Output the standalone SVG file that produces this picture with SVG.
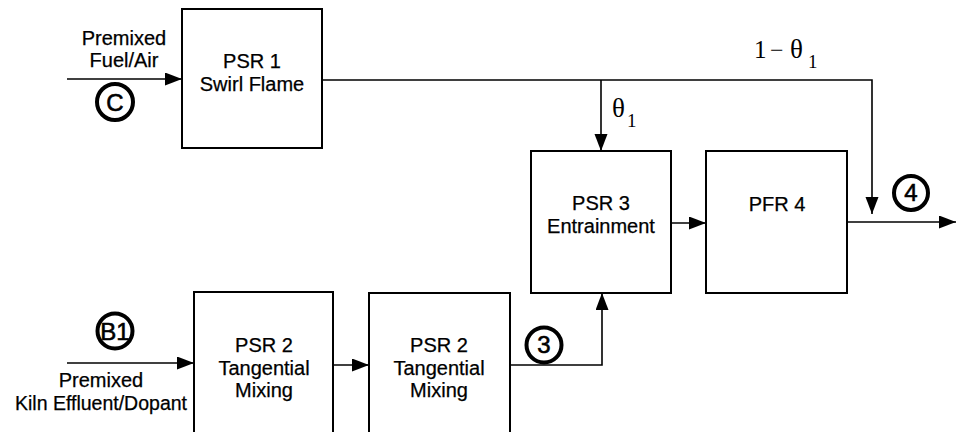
<svg xmlns="http://www.w3.org/2000/svg" width="956" height="432" viewBox="0 0 956 432">
<defs>
<marker id="ah" markerUnits="userSpaceOnUse" markerWidth="20" markerHeight="14" refX="17" refY="6.5" orient="auto">
<path d="M0,0 L17,6.5 L0,13 Z" fill="#000"/>
</marker>
<style>
.box{fill:#fff;stroke:#000;stroke-width:2}
.ln{fill:none;stroke:#000;stroke-width:1.6}
.t{font-family:"Liberation Sans",Arial,sans-serif;font-size:20px;fill:#000;stroke:#000;stroke-width:0.25;text-anchor:middle}
.g{font-family:"Liberation Serif","Times New Roman",serif;fill:#000}
.c{fill:none;stroke:#000;stroke-width:4}
.ct{font-family:"Liberation Sans",Arial,sans-serif;font-size:24px;fill:#000;stroke:#000;stroke-width:0.6;text-anchor:middle}
</style>
</defs>
<rect width="956" height="432" fill="#fff"/>
<g id="connectors">
<path class="ln" d="M67,79 H182" marker-end="url(#ah)"/>
<path class="ln" d="M322,80 H872 V214" marker-end="url(#ah)"/>
<path class="ln" d="M601,80 V151" marker-end="url(#ah)"/>
<path class="ln" d="M671,223 H706" marker-end="url(#ah)"/>
<path class="ln" d="M847,222 H956" marker-end="url(#ah)"/>
<path class="ln" d="M67,363 H194" marker-end="url(#ah)"/>
<path class="ln" d="M333,365 H369" marker-end="url(#ah)"/>
<path class="ln" d="M510,365 H602 V293" marker-end="url(#ah)"/>
</g>
<g id="label-c">
<text class="t" x="124" y="45">Premixed</text>
<text class="t" x="124" y="67">Fuel/Air</text>
<circle class="c" cx="115" cy="102" r="18"/>
<text class="ct" x="115" y="111">C</text>
</g>
<g id="label-b1">
<circle class="c" cx="115" cy="331" r="17.5"/>
<text class="ct" x="115" y="340">B1</text>
<text class="t" x="101" y="387">Premixed</text>
<text class="t" x="101" y="410" style="font-size:19.5px">Kiln Effluent/Dopant</text>
</g>
<g id="psr1">
<rect class="box" x="182" y="9" width="140" height="139"/>
<text class="t" x="252" y="68">PSR 1</text>
<text class="t" x="252" y="91">Swirl Flame</text>
</g>
<g id="theta-labels">
<text class="g" x="612" y="117" font-size="27">θ</text>
<text class="g" x="627" y="127" font-size="19">1</text>
<text class="g" x="754" y="58" font-size="25">1</text>
<text class="g" x="770" y="58" font-size="24">−</text>
<text class="g" x="790" y="58" font-size="27">θ</text>
<text class="g" x="808" y="68" font-size="19">1</text>
</g>
<g id="psr3">
<rect class="box" x="531" y="151" width="140" height="142"/>
<text class="t" x="601" y="210">PSR 3</text>
<text class="t" x="601" y="233">Entrainment</text>
</g>
<g id="pfr4">
<rect class="box" x="706" y="151" width="141" height="142"/>
<text class="t" x="777" y="211">PFR 4</text>
</g>
<g id="label-4">
<circle class="c" cx="911" cy="193" r="17"/>
<text class="ct" x="911" y="201">4</text>
</g>
<g id="psr2a">
<rect class="box" x="194" y="292" width="139" height="150"/>
<text class="t" x="264" y="352">PSR 2</text>
<text class="t" x="264" y="375">Tangential</text>
<text class="t" x="264" y="397">Mixing</text>
</g>
<g id="psr2b">
<rect class="box" x="369" y="293" width="141" height="150"/>
<text class="t" x="439" y="352">PSR 2</text>
<text class="t" x="439" y="375">Tangential</text>
<text class="t" x="439" y="397">Mixing</text>
</g>
<g id="label-3">
<circle class="c" cx="544" cy="345" r="17.5"/>
<text class="ct" x="544" y="353">3</text>
</g>
</svg>
